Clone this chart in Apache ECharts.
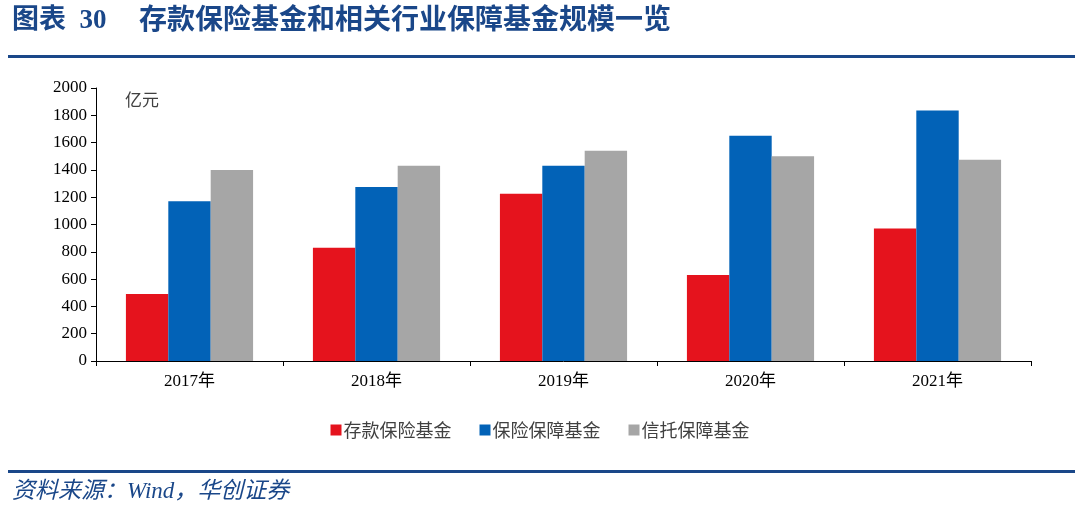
<!DOCTYPE html>
<html><head><meta charset="utf-8">
<script src="https://cdn.jsdelivr.net/npm/echarts@6/dist/echarts.min.js"></script>
<style>html,body{margin:0;padding:0;background:#fff}#c{width:1080px;height:516px}</style>
</head><body><div id="c"></div>
<script>
const categories = ['2017年','2018年','2019年','2020年','2021年'];
const seriesNames = ['存款保险基金','保险保障基金','信托保障基金'];
const depositFund = [490, 830, 1225, 630, 970];
const insuranceFund = [1170, 1275, 1430, 1650, 1835];
const trustFund = [1400, 1430, 1540, 1500, 1475];
const colors = ['#E5131D','#0262B7','#A6A6A6'];
const serifFont = '"Liberation Serif","Noto Sans CJK SC",serif';
const sansFont = '"Noto Sans CJK SC","Noto Sans",sans-serif';
const chart = echarts.init(document.getElementById('c'));
chart.setOption({
  animation:false,
  backgroundColor:'#fff',
  color: colors,
  graphic:[
    {type:'text', left:12, top:8, style:{text:'图表  30', fill:'#1A4789', fontSize:27, fontWeight:'bold', fontFamily:serifFont}},
    {type:'text', left:139, top:8, style:{text:'存款保险基金和相关行业保障基金规模一览', fill:'#1A4789', fontSize:28, fontWeight:'bold', fontFamily:serifFont}},
    {type:'rect', shape:{x:8,y:55,width:1067,height:3}, style:{fill:'#1A4789'}},
    {type:'rect', shape:{x:8,y:470,width:1067,height:3}, style:{fill:'#1A4789'}},
    {type:'text', left:12, top:480, style:{text:'资料来源：Wind，华创证券', fill:'#1A4789', fontSize:23, fontStyle:'italic', fontFamily:serifFont}},
    {type:'text', left:125, top:91, style:{text:'亿元', fill:'#404040', fontSize:17, fontFamily:sansFont}}
  ],
  legend:{
    data:seriesNames, bottom:72, left:'center', itemWidth:11, itemHeight:11, itemGap:28,
    icon:'rect',
    textStyle:{fontSize:18, color:'#404040', fontFamily:sansFont, padding:[0,0,0,-3]}
  },
  grid:{left:96, right:49, top:88, bottom:155},
  xAxis:{
    type:'category', data:categories,
    axisLine:{lineStyle:{color:'#000', width:1}},
    axisTick:{show:true, length:5, lineStyle:{color:'#000'}},
    axisLabel:{color:'#000', fontSize:17, fontFamily:serifFont, margin:12}
  },
  yAxis:{
    type:'value', min:0, max:2000, interval:200,
    axisLine:{show:true, lineStyle:{color:'#000'}},
    axisTick:{show:true, length:5, lineStyle:{color:'#000'}},
    splitLine:{show:false},
    axisLabel:{color:'#000', fontSize:17, fontFamily:serifFont, margin:9, formatter:function(v){return String(v);}}
  },
  series:[
    {name:seriesNames[0], type:'bar', data:depositFund, barGap:'0%', barCategoryGap:'32%'},
    {name:seriesNames[1], type:'bar', data:insuranceFund, barGap:'0%', barCategoryGap:'32%'},
    {name:seriesNames[2], type:'bar', data:trustFund, barGap:'0%', barCategoryGap:'32%'}
  ]
});
</script></body></html>
